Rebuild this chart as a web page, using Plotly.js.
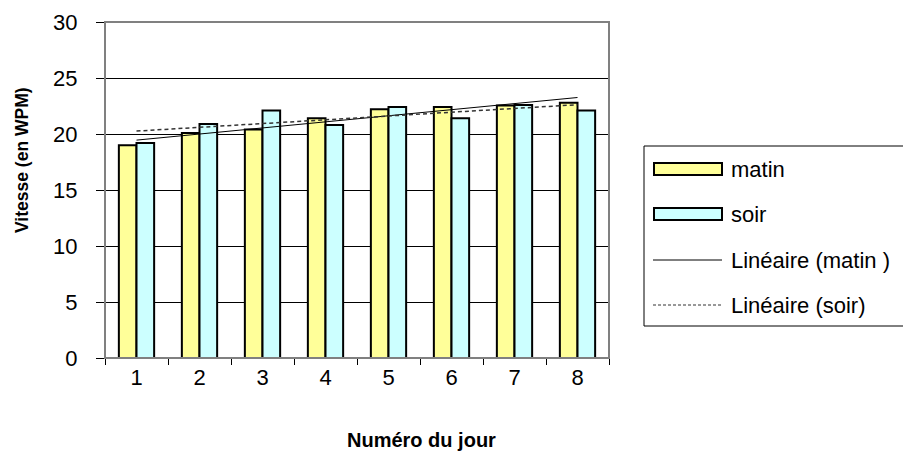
<!DOCTYPE html>
<html><head><meta charset="utf-8">
<script src="https://cdn.plot.ly/plotly-3.0.1.min.js"></script>
<style>html,body{margin:0;padding:0;background:#fff;}#chart{width:903px;height:455px;}</style>
</head><body><div id="chart"></div>
<script>
// ---- data ----
const days = ['1','2','3','4','5','6','7','8'];
const matin = [19.0, 20.1, 20.4, 21.4, 22.2, 22.4, 22.55, 22.8];
const soir  = [19.2, 20.9, 22.1, 20.8, 22.4, 21.4, 22.6, 22.1];
const seriesNames = ['matin', 'soir', 'Linéaire (matin )', 'Linéaire (soir)'];
const yTicks = [0, 5, 10, 15, 20, 25, 30];
const xTitle = 'Numéro du jour';
const yTitle = 'Vitesse (en WPM)';

// linear regression trendline (as Excel "Linéaire")
function linfit(ys) {
  const n = ys.length;
  const xs = ys.map((_, i) => i + 1);
  const mx = xs.reduce((a, b) => a + b, 0) / n;
  const my = ys.reduce((a, b) => a + b, 0) / n;
  let sxy = 0, sxx = 0;
  for (let i = 0; i < n; i++) { sxy += (xs[i] - mx) * (ys[i] - my); sxx += (xs[i] - mx) ** 2; }
  const b = sxy / sxx, a = my - b * mx;
  return xs.map(x => a + b * x);
}

const FONT = 'Arial, "Liberation Sans", sans-serif';
const L = 105, R = 609, T = 22, B = 358;
const W = 903, H = 455;
const px = x => (x - L) / (R - L);
const py = y => (B - y) / (B - T);

const traces = [
  { type: 'bar', name: seriesNames[0], x: days, y: matin,
    marker: { color: '#FFFF99', line: { color: '#000', width: 2 } } },
  { type: 'bar', name: seriesNames[1], x: days, y: soir,
    marker: { color: '#CCFFFF', line: { color: '#000', width: 2 } } },
  { type: 'scatter', mode: 'lines', name: seriesNames[2], x: days, y: linfit(matin),
    line: { color: '#000', width: 1 } },
  { type: 'scatter', mode: 'lines', name: seriesNames[3], x: days, y: linfit(soir),
    line: { color: '#333', width: 1.5, dash: '4px,3px' } }
];

const shapes = [
  // plot-area border (gray)
  { type: 'rect', xref: 'paper', yref: 'paper', x0: 0, x1: 1, y0: 0, y1: 1,
    line: { color: '#808080', width: 2 }, layer: 'above' },
  // legend frame
  { type: 'rect', xref: 'paper', yref: 'paper', x0: px(644), x1: px(910), y0: py(326), y1: py(146),
    line: { color: '#000', width: 1 }, fillcolor: 'rgba(0,0,0,0)' },
  // legend symbols
  { type: 'rect', xref: 'paper', yref: 'paper', x0: px(654), x1: px(722), y0: py(175), y1: py(163),
    line: { color: '#000', width: 2 }, fillcolor: '#FFFF99' },
  { type: 'rect', xref: 'paper', yref: 'paper', x0: px(654), x1: px(722), y0: py(220), y1: py(208),
    line: { color: '#000', width: 2 }, fillcolor: '#CCFFFF' },
  { type: 'line', xref: 'paper', yref: 'paper', x0: px(653), x1: px(722), y0: py(260), y1: py(260),
    line: { color: '#000', width: 1 } },
  { type: 'line', xref: 'paper', yref: 'paper', x0: px(653), x1: px(722), y0: py(305), y1: py(305),
    line: { color: '#333', width: 1, dash: '3px,2px' } }
];

const legY = [169, 214, 260, 305];
const annotations = seriesNames.map((t, i) => ({
  text: t, xref: 'paper', yref: 'paper', x: px(729), y: py(legY[i]),
  xanchor: 'left', yanchor: 'middle', showarrow: false,
  font: { family: FONT, size: 22, color: '#000' }
}));
annotations.push({
  text: '<b>' + xTitle + '</b>', xref: 'paper', yref: 'paper', x: px(421), y: py(440),
  xanchor: 'center', yanchor: 'middle', showarrow: false,
  font: { family: FONT, size: 20, color: '#000' }
});
annotations.push({
  text: '<b>' + yTitle + '</b>', xref: 'paper', yref: 'paper', x: px(22), y: py(160),
  xanchor: 'center', yanchor: 'middle', showarrow: false, textangle: -90,
  font: { family: FONT, size: 17.5, color: '#000' }
});

const layout = {
  width: W, height: H,
  margin: { l: L, r: W - R, t: T, b: H - B, pad: 0 },
  paper_bgcolor: '#fff', plot_bgcolor: '#fff',
  showlegend: false,
  barmode: 'group', bargap: 0.44, bargroupgap: 0,
  font: { family: FONT, size: 20, color: '#000' },
  xaxis: {
    type: 'category', tickson: 'boundaries', ticks: 'outside', ticklen: 6,
    tickcolor: '#000', tickwidth: 1, showline: true, linecolor: '#000', linewidth: 1,
    showgrid: false, tickfont: { family: FONT, size: 22, color: '#000' },
    fixedrange: true
  },
  yaxis: {
    range: [0, 30], tickvals: yTicks, ticks: 'outside', ticklen: 8,
    tickcolor: '#000', tickwidth: 1, showline: true, linecolor: '#000', linewidth: 1,
    showgrid: true, gridcolor: '#000', gridwidth: 1, zeroline: false,
    ticklabelstandoff: 14, tickfont: { family: FONT, size: 22, color: '#000' },
    fixedrange: true
  },
  shapes: shapes,
  annotations: annotations
};

Plotly.newPlot('chart', traces, layout, { displayModeBar: false, staticPlot: true });
</script>
</body></html>
